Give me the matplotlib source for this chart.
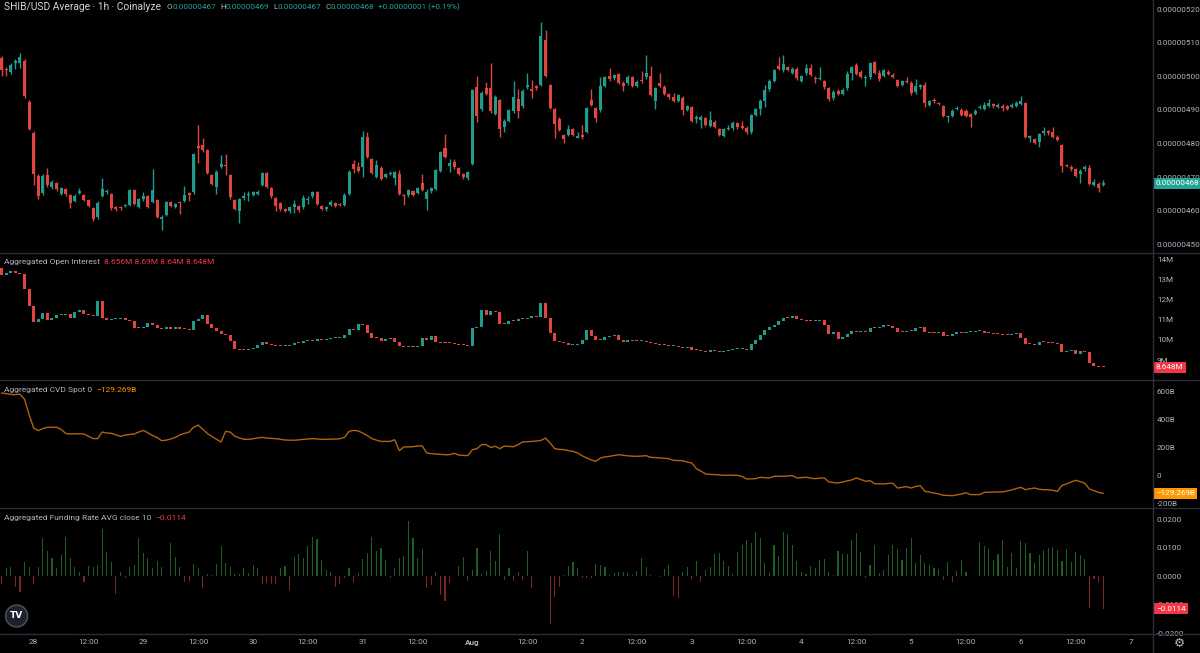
import numpy as np
import matplotlib
matplotlib.use("Agg")
import matplotlib.pyplot as plt
from matplotlib.lines import Line2D
from matplotlib.patches import Ellipse
from matplotlib.text import Annotation
from matplotlib.transforms import blended_transform_factory
from matplotlib import font_manager

# ---------------- data (hourly, Jul 27 17:00 -> Aug 6 18:00) ----------------
# SHIB price, in units of 1e-8 USD
price_open = [
    505.3, 502.0, 501.2, 503.8, 504.0, 504.6, 492.4, 483.2, 470.3, 465.2,
    470.6, 467.1, 468.1, 465.0, 466.3, 464.7, 463.0, 465.3, 464.7, 463.2,
    460.7, 458.0, 464.4, 465.4, 465.0, 461.2, 461.0, 461.3, 461.8, 466.0,
    461.2, 463.4, 464.4, 462.7, 463.2, 457.6, 458.7, 462.5, 461.0, 462.7,
    463.0, 465.2, 465.4, 479.3, 479.5, 478.1, 470.6, 467.1, 472.9, 473.7,
    470.6, 463.2, 460.0, 463.8, 464.5, 464.7, 465.0, 467.6, 471.1, 466.8,
    463.7, 462.4, 460.4, 459.8, 461.0, 461.4, 461.0, 463.2, 464.2, 465.4,
    461.4, 460.4, 461.6, 462.4, 462.0, 461.8, 464.9, 473.9, 473.1, 473.1,
    482.0, 475.4, 470.1, 472.8, 470.1, 471.0, 469.8, 470.9, 464.5, 464.5,
    465.9, 465.2, 468.3, 463.5, 465.7, 466.4, 471.9, 478.7, 473.3, 474.6,
    472.6, 470.9, 469.6, 473.9, 496.7, 490.2, 496.6, 496.4, 488.8, 492.9,
    484.8, 486.8, 489.5, 493.1, 491.0, 496.7, 496.3, 497.1, 497.4, 510.8,
    497.4, 490.2, 487.3, 482.5, 482.5, 484.3, 481.7, 482.5, 483.5, 493.0,
    490.5, 489.8, 497.2, 500.1, 499.4, 500.7, 498.1, 497.9, 499.7, 497.1,
    498.8, 499.7, 500.1, 492.7, 498.1, 496.9, 494.6, 493.7, 492.7, 493.6,
    490.0, 490.7, 487.2, 487.0, 487.5, 485.2, 486.5, 484.3, 482.3, 484.4,
    484.5, 486.0, 485.2, 484.5, 483.3, 488.5, 490.2, 492.7, 496.1, 498.7,
    502.9, 501.7, 502.6, 501.1, 502.2, 498.7, 500.9, 502.4, 499.5, 499.1,
    498.6, 496.4, 493.4, 495.7, 494.7, 496.4, 501.1, 503.2, 501.3, 499.5,
    499.7, 504.2, 500.9, 500.1, 501.4, 500.5, 498.9, 497.4, 498.6, 498.1,
    495.4, 496.7, 497.4, 491.5, 493.0, 492.0, 491.0, 487.8, 488.3, 490.2,
    490.0, 489.7, 488.7, 488.8, 490.5, 490.2, 491.2, 491.7, 490.8, 491.2,
    491.0, 490.8, 491.1, 491.7, 491.9, 481.5, 481.2, 480.5, 483.0, 483.7,
    483.3, 482.0, 479.5, 473.5, 473.1, 472.4, 470.9, 472.3, 472.6, 467.7,
    468.0, 467.6,
]
price_close = [
    501.7, 501.8, 503.2, 504.5, 505.6, 494.0, 484.3, 470.9, 464.2, 470.4,
    467.6, 468.6, 466.3, 466.6, 464.9, 462.4, 464.4, 465.7, 463.2, 461.4,
    457.4, 462.4, 466.3, 465.8, 460.7, 460.4, 460.7, 461.7, 466.0, 462.0,
    463.4, 464.2, 461.0, 466.2, 458.2, 458.2, 462.7, 461.5, 462.0, 462.2,
    464.7, 464.5, 476.9, 478.5, 477.9, 471.1, 468.0, 471.6, 473.9, 473.4,
    464.0, 460.6, 463.4, 464.2, 464.9, 465.4, 465.6, 471.3, 467.1, 464.2,
    461.5, 460.4, 460.0, 461.0, 462.0, 460.2, 463.9, 463.6, 465.4, 462.0,
    460.6, 461.2, 462.7, 461.4, 461.8, 464.7, 471.6, 472.4, 471.9, 482.0,
    476.1, 471.1, 473.6, 469.4, 470.9, 471.2, 471.4, 465.0, 464.2, 466.0,
    464.7, 466.6, 466.1, 465.4, 466.6, 472.1, 477.3, 476.1, 474.3, 472.9,
    470.9, 469.9, 471.4, 495.9, 488.2, 494.9, 494.7, 489.5, 493.9, 484.2,
    486.8, 489.8, 493.9, 489.5, 495.7, 497.5, 495.7, 496.4, 512.0, 500.1,
    490.5, 485.8, 484.0, 481.2, 484.2, 482.5, 482.2, 481.8, 490.5, 491.5,
    487.7, 497.1, 499.7, 499.1, 500.4, 498.1, 497.1, 499.9, 497.2, 498.4,
    498.5, 501.1, 494.4, 496.4, 497.1, 494.7, 493.7, 492.7, 494.4, 490.0,
    491.0, 486.8, 487.9, 488.0, 485.5, 487.0, 485.0, 482.5, 484.2, 484.7,
    486.2, 484.8, 484.6, 483.3, 488.5, 490.2, 492.7, 495.9, 498.7, 501.7,
    502.1, 503.7, 501.9, 502.2, 499.4, 500.1, 502.4, 500.4, 499.1, 499.3,
    496.7, 493.1, 495.4, 494.7, 495.9, 500.7, 502.6, 500.7, 499.9, 499.7,
    503.9, 501.1, 499.1, 501.7, 500.7, 499.8, 497.1, 498.6, 498.3, 494.9,
    497.1, 497.4, 492.0, 492.5, 492.5, 491.8, 488.2, 488.1, 489.7, 490.5,
    488.5, 488.2, 488.0, 489.7, 490.9, 491.5, 492.0, 491.0, 491.5, 490.4,
    490.2, 491.5, 492.1, 492.6, 482.0, 482.2, 480.2, 482.7, 483.7, 483.0,
    482.0, 481.0, 473.3, 473.3, 472.3, 470.3, 471.9, 473.1, 468.0, 468.5,
    466.7, 468.1,
]
price_high = [
    506.0, 502.8, 503.8, 505.0, 506.8, 505.0, 492.8, 483.8, 470.8, 470.8,
    472.6, 469.0, 468.5, 467.0, 466.8, 465.0, 464.8, 466.8, 465.0, 463.5,
    461.0, 462.8, 469.8, 466.5, 465.3, 461.5, 461.5, 462.0, 466.3, 466.3,
    463.8, 465.4, 464.7, 472.3, 463.5, 458.6, 463.0, 462.8, 462.4, 462.9,
    467.2, 465.6, 477.2, 485.5, 481.5, 478.4, 470.9, 472.0, 476.6, 476.9,
    470.9, 463.5, 463.8, 465.4, 465.9, 465.8, 466.0, 471.6, 471.4, 467.1,
    464.0, 462.7, 460.7, 461.4, 463.2, 461.7, 464.5, 464.4, 465.8, 465.7,
    461.7, 461.5, 463.1, 462.7, 462.3, 465.1, 472.0, 475.0, 474.5, 483.7,
    483.5, 475.7, 475.0, 473.2, 471.2, 471.8, 471.8, 472.1, 464.8, 466.4,
    466.2, 467.0, 470.9, 466.5, 467.0, 472.5, 477.7, 482.8, 475.4, 475.4,
    473.0, 471.2, 471.8, 496.3, 500.1, 495.6, 498.4, 503.9, 494.3, 493.2,
    487.2, 490.2, 498.6, 496.1, 496.1, 500.9, 498.9, 497.5, 516.2, 513.8,
    497.8, 490.5, 487.8, 482.9, 485.5, 484.7, 483.5, 485.5, 490.9, 496.1,
    490.9, 499.7, 500.1, 502.4, 500.8, 501.1, 498.5, 500.3, 500.1, 498.8,
    501.6, 506.3, 502.9, 496.8, 500.9, 497.3, 495.0, 494.9, 494.8, 494.0,
    491.4, 491.1, 488.5, 488.4, 487.9, 489.5, 486.9, 484.7, 484.6, 485.6,
    486.6, 486.4, 486.8, 485.3, 488.9, 490.6, 493.1, 497.3, 499.1, 502.1,
    505.6, 506.3, 503.0, 502.6, 502.6, 500.5, 503.7, 503.5, 500.2, 502.6,
    499.0, 496.8, 495.8, 496.1, 496.6, 501.5, 503.0, 504.0, 501.7, 500.3,
    504.3, 504.6, 501.9, 502.1, 501.8, 500.9, 499.3, 499.0, 499.7, 498.5,
    499.2, 497.8, 498.2, 493.0, 493.6, 492.3, 491.4, 488.5, 490.1, 491.0,
    490.4, 490.1, 489.1, 490.1, 491.5, 492.4, 493.2, 492.1, 491.9, 491.6,
    491.4, 491.9, 492.6, 494.1, 492.3, 482.6, 481.6, 483.1, 485.0, 484.1,
    485.0, 482.4, 479.9, 473.9, 473.5, 472.8, 472.3, 473.5, 473.6, 469.5,
    468.4, 469.0,
]
price_low = [
    500.0, 500.0, 500.8, 502.0, 502.5, 493.5, 484.0, 467.6, 463.5, 464.5,
    467.0, 466.5, 465.8, 464.5, 464.2, 460.7, 462.5, 465.0, 462.8, 461.0,
    457.0, 457.5, 464.0, 465.0, 460.2, 460.0, 460.2, 461.0, 461.4, 461.6,
    460.8, 463.0, 460.7, 462.3, 457.8, 454.3, 458.3, 461.2, 460.7, 459.0,
    462.7, 463.0, 465.0, 474.1, 477.5, 470.8, 467.6, 465.0, 472.6, 470.6,
    463.6, 460.2, 456.2, 463.3, 463.0, 464.3, 464.6, 467.2, 466.8, 463.9,
    459.8, 460.0, 459.6, 459.4, 459.4, 459.5, 460.6, 462.0, 463.8, 461.6,
    460.2, 460.0, 461.3, 461.0, 461.4, 461.4, 464.6, 471.1, 471.5, 470.0,
    475.8, 470.8, 469.8, 469.0, 469.8, 470.6, 467.5, 464.6, 461.7, 464.1,
    464.3, 464.8, 465.7, 460.2, 465.3, 466.0, 471.5, 475.7, 471.5, 472.5,
    470.5, 469.5, 469.2, 473.5, 486.5, 489.5, 494.3, 489.1, 488.4, 482.0,
    483.5, 486.4, 489.1, 487.5, 490.6, 496.3, 493.4, 496.0, 497.0, 499.7,
    490.1, 481.5, 483.6, 480.2, 482.1, 482.1, 481.5, 481.4, 483.1, 491.1,
    486.5, 489.4, 496.8, 498.7, 499.0, 497.7, 495.7, 497.5, 496.8, 496.7,
    498.1, 499.3, 494.0, 490.2, 496.7, 494.3, 493.3, 492.3, 492.3, 488.5,
    489.6, 486.4, 486.2, 484.5, 485.1, 484.8, 484.6, 482.1, 481.9, 484.0,
    484.1, 484.4, 484.2, 482.9, 482.9, 488.1, 488.5, 490.7, 495.7, 498.3,
    501.7, 501.3, 501.5, 500.7, 499.0, 498.3, 500.5, 500.0, 498.0, 498.9,
    496.3, 492.5, 493.0, 494.3, 494.3, 496.0, 498.9, 500.3, 499.5, 497.1,
    499.3, 500.7, 498.7, 499.7, 500.3, 499.4, 496.7, 497.0, 497.9, 494.5,
    494.8, 496.3, 490.9, 491.1, 492.1, 491.4, 487.8, 486.5, 487.9, 489.8,
    488.1, 487.8, 485.0, 488.4, 490.1, 489.8, 490.8, 490.6, 490.4, 489.6,
    489.8, 490.4, 490.7, 491.3, 481.6, 480.5, 479.8, 479.0, 482.6, 482.6,
    481.6, 480.6, 471.5, 472.9, 471.9, 469.9, 468.2, 471.9, 467.6, 467.3,
    465.5, 467.2,
]

# aggregated open interest, millions (open of each bar = previous close)
oi_first_open = 13.55
oi_close = [
    13.2, 13.29, 13.4, 13.3, 13.25, 12.5, 11.7, 10.9, 11.03, 11.34,
    11.0, 11.06, 11.23, 11.25, 11.26, 11.1, 11.4, 11.5, 11.3, 11.25,
    11.2, 11.9, 11.1, 11.0, 11.02, 11.05, 11.06, 10.98, 10.95, 10.6,
    10.58, 10.65, 10.85, 10.73, 10.6, 10.55, 10.65, 10.55, 10.62, 10.56,
    10.54, 10.5, 10.94, 11.05, 11.22, 10.8, 10.6, 10.45, 10.3, 10.25,
    9.95, 9.55, 9.5, 9.49, 9.55, 9.6, 9.75, 9.88, 9.78, 9.73,
    9.7, 9.69, 9.7, 9.76, 9.86, 9.84, 9.92, 9.96, 9.94, 10.02,
    9.98, 10.05, 10.08, 10.09, 10.1, 10.24, 10.54, 10.5, 10.76, 10.72,
    10.35, 10.1, 10.08, 9.95, 10.02, 10.07, 9.9, 9.68, 9.66, 9.67,
    9.65, 9.7, 10.1, 9.98, 10.2, 9.9, 9.86, 9.83, 9.82, 9.8,
    9.76, 9.72, 9.7, 10.57, 10.62, 11.5, 11.23, 11.45, 11.4, 10.8,
    10.78, 10.95, 10.92, 11.05, 11.02, 11.08, 11.18, 11.15, 11.84, 11.1,
    10.35, 9.96, 9.9, 9.82, 9.73, 9.76, 9.8, 10.0, 10.5, 10.2,
    10.0, 9.97, 10.15, 10.2, 10.25, 10.0, 9.9, 9.98, 9.95, 9.92,
    9.95, 9.9, 9.82, 9.8, 9.76, 9.73, 9.67, 9.7, 9.66, 9.6,
    9.65, 9.5, 9.49, 9.46, 9.42, 9.5, 9.45, 9.42, 9.46, 9.5,
    9.53, 9.54, 9.55, 9.5, 9.8, 10.0, 10.24, 10.5, 10.62, 10.73,
    10.93, 11.1, 11.08, 11.2, 11.05, 11.0, 10.95, 10.92, 10.94, 10.96,
    10.75, 10.3, 10.4, 10.05, 10.15, 10.3, 10.45, 10.4, 10.42, 10.38,
    10.57, 10.6, 10.65, 10.72, 10.7, 10.6, 10.4, 10.38, 10.45, 10.42,
    10.57, 10.62, 10.38, 10.36, 10.34, 10.38, 10.2, 10.18, 10.3, 10.38,
    10.36, 10.38, 10.4, 10.42, 10.44, 10.36, 10.34, 10.3, 10.28, 10.26,
    10.24, 10.28, 10.35, 10.1, 9.8, 9.78, 9.76, 9.9, 9.88, 9.86,
    9.84, 9.8, 9.42, 9.46, 9.48, 9.32, 9.46, 9.42, 8.86, 8.7,
    8.656, 8.648,
]

# aggregated spot CVD, billions
cvd = [
    590, 585, 580, 578, 582, 545, 434, 339, 320, 335,
    344, 344, 344, 330, 300, 296, 298, 298, 296, 280,
    263, 263, 310, 303, 301, 290, 279, 288, 293, 296,
    310, 322, 305, 285, 272, 248, 252, 260, 272, 290,
    300, 310, 345, 360, 330, 300, 279, 258, 239, 315,
    310, 280, 268, 258, 258, 262, 268, 272, 267, 265,
    262, 258, 253, 252, 251, 254, 258, 260, 263, 260,
    258, 258, 259, 260, 262, 272, 315, 322, 318, 303,
    285, 263, 252, 243, 243, 243, 255, 177, 203, 204,
    205, 210, 212, 160, 155, 153, 150, 148, 148, 158,
    145, 143, 141, 184, 191, 220, 220, 200, 208, 191,
    210, 207, 205, 220, 239, 241, 243, 246, 250, 267,
    232, 191, 186, 184, 177, 172, 160, 140, 125, 110,
    100, 124, 132, 136, 142, 148, 143, 140, 137, 136,
    138, 141, 129, 127, 125, 122, 119, 107, 106, 105,
    95, 88, 48, 30, 10, 7, 5, 3, 0, 1,
    0, 0, -8, -26, -25, -24, -14, -17, -19, -7,
    -7, -7, -4, -2, -19, -16, -14, -20, -24, -20,
    -19, -48, -52, -55, -48, -40, -33, -19, -30, -43,
    -38, -60, -61, -62, -58, -57, -91, -86, -81, -91,
    -80, -74, -115, -120, -127, -133, -143, -144, -146, -140,
    -134, -125, -138, -138, -138, -122, -121, -120, -119, -119,
    -112, -105, -95, -86, -103, -96, -91, -100, -103, -103,
    -108, -115, -72, -62, -48, -36, -45, -57, -98, -110,
    -122, -129.269,
]

# aggregated funding rate, in units of 0.0001
funding_e4 = [
    -28, 31, 34, -36, -54, 52, 34, -27, 34, 134,
    89, 66, 31, 75, 138, 64, 34, 16, -21, 36,
    34, 40, 167, 87, 52, -64, 14, -7, 34, 40,
    134, 81, 64, 28, 54, 34, 2, 119, 69, 34,
    -19, -16, 42, 28, -40, 8, 5, 42, 108, 46,
    34, 7, 8, 28, 11, 40, 28, -28, -25, -28,
    -28, 28, 36, -48, 69, 78, 66, 108, 140, 132,
    58, 22, 14, -36, -28, -5, 28, -21, 11, 61,
    84, 140, 89, 101, 58, -5, 28, 64, 73, 195,
    134, 66, 96, -42, -31, 16, -66, -87, -25, 2,
    38, 69, -16, 22, 101, 8, 20, 89, 54, 148,
    -13, 31, -16, 16, -13, 89, -42, 2, 2, 2,
    -169, -72, -36, 5, 38, 52, 28, -5, -5, -5,
    44, 40, 32, 5, 11, 14, 16, 11, 5, 19,
    66, 32, 5, 2, -2, 26, 40, -68, -75, 14,
    32, -9, 54, -19, 22, 32, 78, 84, 54, 36,
    7, 87, 111, 128, 119, 158, 134, 46, 11, 111,
    72, 155, 149, 111, 54, 16, 7, 38, 28, 58,
    60, 16, 5, 89, 78, 78, 128, 152, 85, -7,
    40, 111, 11, 22, 75, 111, 96, 58, 99, 134,
    48, 75, 46, 40, 28, 26, -13, 49, -21, 19,
    58, 14, 2, 2, 120, 107, 95, 58, 78, 128,
    34, 81, 28, 125, 116, 81, 48, 75, 93, 101,
    102, 93, 54, 95, 52, 85, 75, 61, -113, -9,
    -21, -114,
]

# time axis: first bar is Jul 27 17:00, so Jul 28 00:00 is bar 7; ticks every 12 h
first_tick_bar = 7
tick_labels = ["28", "12:00", "29", "12:00", "30", "12:00", "31", "12:00",
               "Aug", "12:00", "2", "12:00", "3", "12:00", "4", "12:00",
               "5", "12:00", "6", "12:00", "7"]

# ---------------- style ----------------
BG = "#000000"
GRID_LINE = "#2a2e39"
TXT = "#b2b5be"
UP = "#1f9c8c"
DOWN = "#e0463f"
TEAL = "#22a597"
RED = "#f23645"
ORANGE = "#ff9800"

installed = {f.name for f in font_manager.fontManager.ttflist}
NARROW = "Liberation Sans Narrow" in installed
plt.rcParams["font.family"] = ["Liberation Sans Narrow", "Roboto", "DejaVu Sans"] if NARROW \
    else ["Roboto", "DejaVu Sans"]
SCALE = 1.0 if NARROW else 0.82   # shrink text if the narrow face is missing

W, H = 1200, 653
fig = plt.figure(figsize=(W / 100, H / 100), dpi=100, facecolor=BG)

PLOT_RIGHT = 1152
AX_FS = 7.2 * SCALE


def pane(top, bottom):
    ax = fig.add_axes([0, 1 - bottom / H, PLOT_RIGHT / W, (bottom - top) / H])
    ax.set_facecolor(BG)
    for s in ax.spines.values():
        s.set_visible(False)
    ax.yaxis.tick_right()
    ax.tick_params(axis="y", length=0, labelsize=AX_FS, labelcolor=TXT, pad=3.5)
    ax.tick_params(axis="x", length=0, labelbottom=False)
    ax.set_xlim(-0.37, 251.7)
    return ax


ax_p = pane(0, 252)
ax_oi = pane(253, 379)
ax_cvd = pane(380, 507)
ax_f = pane(508, 633)


def candles(ax, o, c, h=None, l=None, min_body=0.3):
    o = np.asarray(o, float)
    c = np.asarray(c, float)
    x = np.arange(len(c))
    cols = np.where(c >= o, UP, DOWN)
    if h is not None:
        ax.vlines(x, l, h, colors=cols, linewidth=1)
    bottom = np.minimum(o, c)
    height = np.maximum(np.abs(c - o), min_body)
    ax.bar(x, height, bottom=bottom, width=0.66, color=cols, linewidth=0)


# price
candles(ax_p, price_open, price_close, price_high, price_low, min_body=0.3)
ax_p.set_ylim(447.68, 522.68)
p_ticks = np.arange(450, 521, 10)
ax_p.set_yticks(p_ticks)
ax_p.set_yticklabels([f"{v / 1e8:.8f}" for v in p_ticks])

# open interest
oi_c = np.array(oi_close)
oi_o = np.concatenate([[oi_first_open], oi_c[:-1]])
candles(ax_oi, oi_o, oi_c, min_body=0.05)
ax_oi.set_ylim(8.06, 14.30)
ax_oi.set_yticks(np.arange(9, 15))
ax_oi.set_yticklabels([f"{v}M" for v in range(9, 15)])

# CVD
ax_cvd.plot(np.arange(len(cvd)), cvd, color="#b0620e", linewidth=1)
ax_cvd.set_ylim(-227, 683)
cvd_ticks = [-200, 0, 200, 400, 600]
ax_cvd.set_yticks(cvd_ticks)
ax_cvd.set_yticklabels([f"{v}B" if v else "0" for v in cvd_ticks])

# funding
fund = np.array(funding_e4) * 1e-4
fx = np.arange(len(fund))
ax_f.bar(fx, fund, width=0.24, color=np.where(fund >= 0, "#1b6022", "#7e2525"), linewidth=0)
ax_f.set_ylim(-0.0200, 0.0241)
f_ticks = [-0.02, -0.01, 0.0, 0.01, 0.02]
ax_f.set_yticks(f_ticks)
ax_f.set_yticklabels([f"{v:.4f}" for v in f_ticks])
ax_f.set_xticks(first_tick_bar + 12 * np.arange(len(tick_labels)))
ax_f.set_xticklabels(tick_labels)
ax_f.tick_params(axis="x", labelbottom=True, labelsize=AX_FS, labelcolor=TXT, pad=4)
ax_f.get_xticklabels()[tick_labels.index("Aug")].set_fontweight("bold")


# last-value tags on the price scale
def tag(ax, value, text, color, tcolor="white"):
    tr = blended_transform_factory(ax.transAxes, ax.transData)
    ax.text(1.0 + 4 / PLOT_RIGHT, value, text, transform=tr, ha="left", va="center",
            fontsize=AX_FS, color=tcolor, clip_on=False, zorder=10,
            bbox=dict(boxstyle="square,pad=0.3", fc=color, ec="none"))


tag(ax_p, price_close[-1], f"{price_close[-1] / 1e8:.8f}", TEAL)
tag(ax_oi, oi_close[-1], f"{oi_close[-1]:.3f}M", RED)
tag(ax_cvd, cvd[-1], f"\u2212{abs(cvd[-1]):.3f}B", ORANGE)
tag(ax_f, fund[-1], f"\u2212{abs(fund[-1]):.4f}", RED)

# pane separators and price-scale border
for y in (252.5, 379.5, 507.5, 633.5):
    fig.add_artist(Line2D([0, 1], [1 - y / H, 1 - y / H], transform=fig.transFigure,
                          color=GRID_LINE, linewidth=1))
fig.add_artist(Line2D([(PLOT_RIGHT + 0.5) / W] * 2, [0, 1], transform=fig.transFigure,
                      color=GRID_LINE, linewidth=1))


# legend headers: each part is placed right after the previous one
def header(x, y, parts):
    text, color, size = parts[0]
    prev = fig.text(x / W, 1 - y / H, text, color=color, fontsize=size,
                    ha="left", va="center")
    for text, color, size, off in parts[1:]:
        prev = fig.add_artist(Annotation(text, xy=(1, 0.5), xycoords=prev,
                                         xytext=(off, 0), textcoords="offset points",
                                         color=color, fontsize=size, ha="left",
                                         va="center", annotation_clip=False))


TS = 9.0 * SCALE   # title
VS = 7.1 * SCALE   # OHLC values
HS = 7.3 * SCALE   # pane headers
header(4, 7, [("SHIB/USD Average \u00b7 1h \u00b7 Coinalyze", "#d1d4dc", TS),
              ("O", TXT, VS, 4), ("0.00000467", TEAL, VS, 0),
              ("H", TXT, VS, 3), ("0.00000469", TEAL, VS, 0),
              ("L", TXT, VS, 3), ("0.00000467", TEAL, VS, 0),
              ("C", TXT, VS, 3), ("0.00000468", TEAL, VS, 0),
              ("+0.00000001 (+0.19%)", TEAL, VS, 3)])
header(4, 262, [("Aggregated Open Interest", TXT, HS),
                ("8.656M 8.69M 8.64M 8.648M", RED, HS, 3)])
header(4, 390, [("Aggregated CVD Spot 0", TXT, HS), ("\u2212129.269B", ORANGE, HS, 3)])
header(4, 518, [("Aggregated Funding Rate AVG close 10", TXT, HS),
                ("\u22120.0114", RED, HS, 3)])

# TradingView badge and settings glyph
fig.add_artist(Ellipse((16.6 / W, 1 - 616 / H), 22 / W, 22 / H, transform=fig.transFigure,
                       fc="#1e222d", ec="#50535e", lw=1))
fig.text(16.6 / W, 1 - 616 / H, "TV", color="white", fontsize=6.5, fontweight="bold",
         ha="center", va="center", family="DejaVu Sans")
fig.text(1179 / W, 1 - 643 / H, "\u2699", color=TXT, fontsize=9, ha="center", va="center",
         family="DejaVu Sans")

fig.savefig("out.png", dpi=100, facecolor=BG)
